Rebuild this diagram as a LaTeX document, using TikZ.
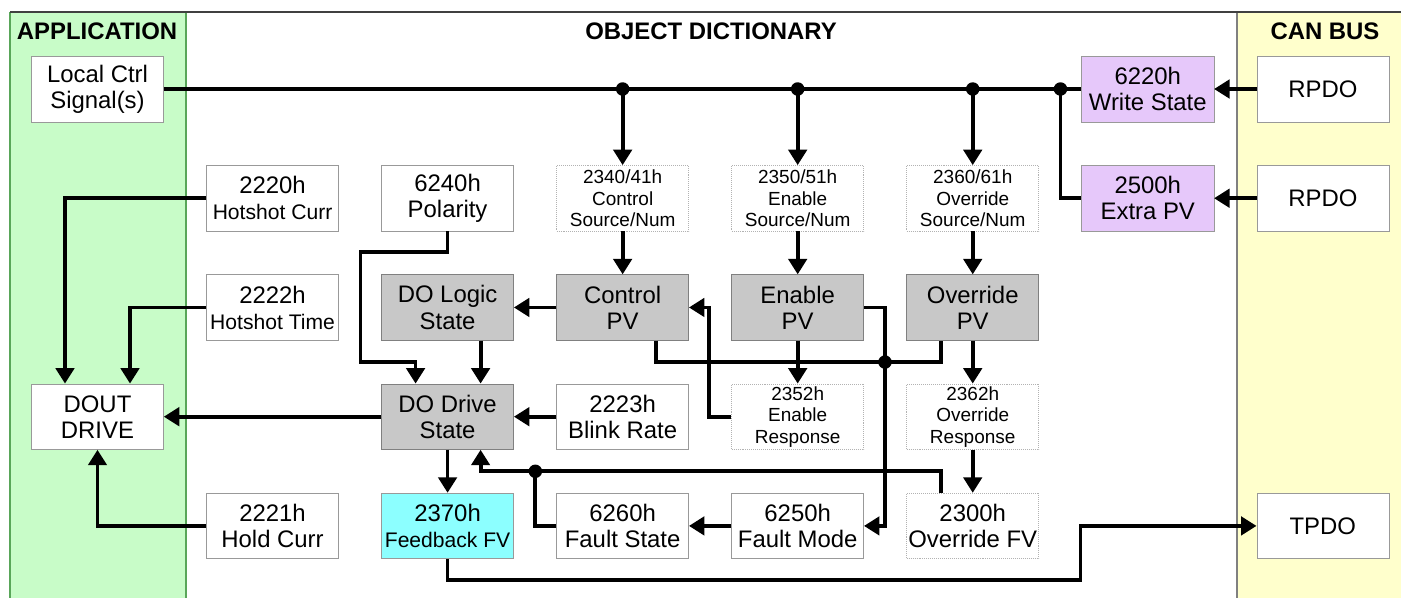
\documentclass[tikz,border=0pt]{standalone}
\usepackage{fontspec}
\setmainfont{Liberation Sans}
\usetikzlibrary{positioning}
\usetikzlibrary{calc}
\usetikzlibrary{arrows.meta}

\definecolor{appgreen}{RGB}{200,252,200}
\definecolor{busyellow}{RGB}{255,255,204}
\definecolor{wrlilac}{RGB}{230,200,250}
\definecolor{fbcyan}{RGB}{140,255,255}
\definecolor{pvgray}{RGB}{200,200,200}
\newcommand{\subtxt}{\fontsize{15}{16.5}\selectfont}

\begin{document}
\begin{tikzpicture}[x=0.025cm, y=-0.025cm, node distance=2.73cm and 4.375cm, on grid,
  box/.style={draw=gray!80, fill=white, rectangle, minimum width=3.3cm, minimum height=1.64cm, inner sep=1pt, align=center, font=\fontsize{17}{18.5}\selectfont},
  pv/.style={box, fill=pvgray, draw=gray},
  obj/.style={box, draw=gray!60, densely dotted, font=\fontsize{13.5}{15.3}\selectfont},
  wire/.style={line width=2.7pt},
  arr/.style={wire, -{Triangle[length=11pt, width=13pt]}},
  head/.style={font=\fontsize{17}{18}\selectfont\bfseries}]
\useasboundingbox (0,0) rectangle (1401,598);
\fill[appgreen] (10,12) rectangle (186,598);
\fill[busyellow] (1237,12) rectangle (1401,598);
\draw[gray!70!green, line width=0.8pt] (186,12) -- (186,598);
\draw[gray, line width=0.8pt] (1237,12) -- (1237,598);
\draw[gray!70!green, line width=0.8pt] (10,12) -- (10,598);
\draw[black!75, line width=0.8pt] (10,12) -- (1401,12);
\node[head] (app) at (97,31) {APPLICATION};
\node[head] (od) at (711,31) {OBJECT DICTIONARY};
\node[head] (can) at (1325,31) {CAN BUS};

\node[box] (LCS) at (97.5,89) {Local Ctrl\\Signal(s)};
\node[box] (HC) [below right=of LCS] {2220h\\{\subtxt Hotshot Curr}};
\node[box] (POL) [right=of HC] {6240h\\Polarity};
\node[obj] (CSN) [right=of POL] {2340/41h\\Control\\Source/Num};
\node[obj] (ESN) [right=of CSN] {2350/51h\\Enable\\Source/Num};
\node[obj] (OSN) [right=of ESN] {2360/61h\\Override\\Source/Num};
\node[box, fill=wrlilac] (XPV) [right=of OSN] {2500h\\Extra PV};
\node[box, fill=wrlilac] (WS) [above=of XPV] {6220h\\Write State};
\node[box] (RPDO1) [right=of WS] {RPDO};
\node[box] (RPDO2) [right=of XPV] {RPDO};
\node[box] (HT) [below=of HC] {2222h\\{\subtxt Hotshot Time}};
\node[pv] (DLS) [below=of POL] {DO Logic\\State};
\node[pv] (CPV) [below=of CSN] {Control\\PV};
\node[pv] (EPV) [below=of ESN] {Enable\\PV};
\node[pv] (OPV) [below=of OSN] {Override\\PV};
\node[box] (DOUT) [below left=of HT] {DOUT\\DRIVE};
\node[pv] (DDS) [below=of DLS] {DO Drive\\State};
\node[box] (BR) [below=of CPV] {2223h\\Blink Rate};
\node[obj] (ER) [below=of EPV] {2352h\\Enable\\Response};
\node[obj] (OR) [below=of OPV] {2362h\\Override\\Response};
\node[box] (HOLD) [below right=of DOUT] {2221h\\Hold Curr};
\node[box, fill=fbcyan] (FB) [below=of DDS] {2370h\\{\subtxt Feedback FV}};
\node[box] (FS) [below=of BR] {6260h\\Fault State};
\node[box] (FM) [below=of ER] {6250h\\Fault Mode};
\node[obj, font=\fontsize{17}{18.5}\selectfont] (OFV) [below=of OR] {2300h\\Override FV};
\node[box] (TPDO) [right=8.75cm of OFV] {TPDO};

\draw[wire] (LCS.east) -- (WS.west);
\coordinate (jW) at ($(WS.west)+(-21,0)$);
\fill (CSN |- LCS) circle[radius=4.8pt];
\fill (ESN |- LCS) circle[radius=4.8pt];
\fill (OSN |- LCS) circle[radius=4.8pt];
\fill (jW) circle[radius=4.8pt];
\draw[arr] (CSN |- LCS) -- (CSN.north);
\draw[arr] (ESN |- LCS) -- (ESN.north);
\draw[arr] (OSN |- LCS) -- (OSN.north);
\draw[wire] (jW) |- (XPV.west);
\draw[arr] (RPDO1.west) -- (WS.east);
\draw[arr] (RPDO2.west) -- (XPV.east);

\draw[arr] (HC.west) -| ([xshift=-0.8125cm]DOUT.north);
\draw[arr] (HT.west) -| ([xshift=0.8125cm]DOUT.north);
\draw[arr] (HOLD.west) -| (DOUT.south);
\draw[arr] (DDS.west) -- (DOUT.east);

\draw[arr] (CSN.south) -- (CPV.north);
\draw[arr] (ESN.south) -- (EPV.north);
\draw[arr] (OSN.south) -- (OPV.north);
\draw[arr] (CPV.west) -- (DLS.east);
\draw[arr] ([xshift=0.825cm]DLS.south) -- ([xshift=0.825cm]DDS.north);
\coordinate (row23) at ($(DLS.south)!.5!(DDS.north)$);
\draw[arr] (POL.south) -- ++(0,21) -| ($(row23)+(-87,0)$) -| ([xshift=-0.8cm]DDS.north);
\draw[arr] (BR.west) -- (DDS.east);
\draw[arr] (EPV.south) -- (ER.north);
\draw[arr] (OPV.south) -- (OR.north);
\draw[arr] (OR.south) -- (OFV.north);
\draw[arr] (ER.west) -- ++(-22,0) |- (CPV.east);

\coordinate (cpvout) at ([xshift=0.825cm]CPV.south);
\coordinate (opvout) at ([xshift=-0.8cm]OPV.south);
\draw[wire] (cpvout) -- (cpvout |- row23) -| (opvout);
\coordinate (jE) at ($(EPV.east)+(21,0)$);
\draw[arr] (EPV.east) -- (jE) |- (FM.east);
\fill (jE |- row23) circle[radius=4.8pt];

\coordinate (row34) at ($(DDS.south)!.5!(FB.north)$);
\coordinate (jF) at ($(FS.west |- row34)+(-21,0)$);
\draw[arr] ([xshift=-0.8cm]OFV.north) |- (jF) -| ([xshift=0.825cm]DDS.south);
\draw[wire] (FS.west) -| (jF);
\fill (jF) circle[radius=4.8pt];
\draw[arr] (FM.west) -- (FS.east);
\draw[arr] (DDS.south) -- (FB.north);
\draw[arr] (FB.south) -- ++(0,21) -| ($(TPDO.west)+(-176,0)$) -- (TPDO.west);
\end{tikzpicture}
\end{document}
